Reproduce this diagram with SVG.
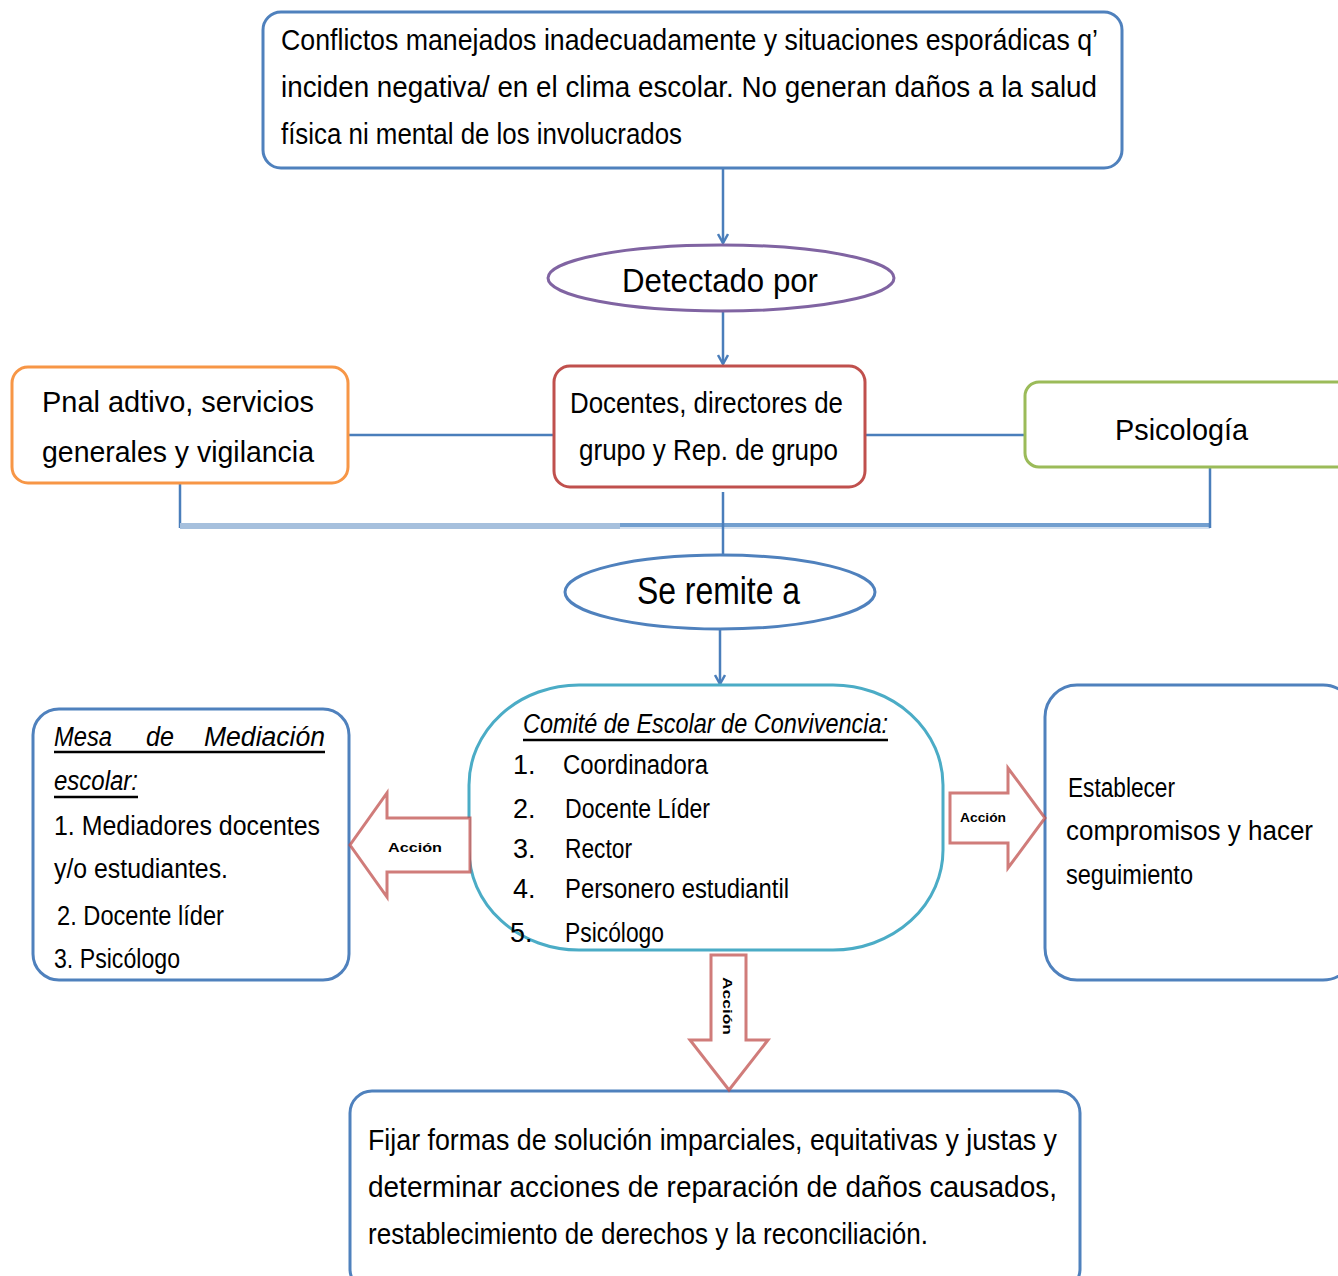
<svg xmlns="http://www.w3.org/2000/svg" width="1338" height="1276" viewBox="0 0 1338 1276">
<style>
text{font-family:"Liberation Sans",Arial,sans-serif;fill:#000}
.box{fill:#fff;stroke-width:3}
.blue{stroke:#4f81bd}
.t30{font-size:30px}
.t26{font-size:27px}
.conn{stroke:#4a7ebb;stroke-width:2.5;fill:none}
.barr{fill:#fff;stroke:#c0504d;stroke-width:3;stroke-opacity:.75}
.lbl{font-size:13px;font-weight:bold}
</style>
<defs>
<marker id="ah" viewBox="0 0 12 12" refX="11" refY="6" markerWidth="12" markerHeight="12" markerUnits="userSpaceOnUse" orient="auto">
<path d="M2,1 L11,6 L2,11" fill="none" stroke="#4a7ebb" stroke-width="2.5"/>
</marker>
</defs>

<g id="connectors">
<line class="conn" x1="723" y1="168" x2="723" y2="243" marker-end="url(#ah)"/>
<line class="conn" x1="723" y1="311" x2="723" y2="364" marker-end="url(#ah)"/>
<line class="conn" x1="348" y1="435" x2="554" y2="435" stroke-width="3"/>
<line class="conn" x1="865" y1="435" x2="1025" y2="435" stroke-width="3"/>
<line class="conn" x1="180" y1="483" x2="180" y2="528"/>
<line x1="180" y1="526" x2="620" y2="526" stroke="#a6c0dd" stroke-width="6"/>
<line x1="620" y1="525" x2="1210" y2="525" stroke="#729fcf" stroke-width="4"/>
<line x1="620" y1="528" x2="1210" y2="528" stroke="#d3e0ef" stroke-width="2"/>
<line class="conn" x1="1210" y1="457" x2="1210" y2="528"/>
<line class="conn" x1="723" y1="492" x2="723" y2="555"/>
<line class="conn" x1="720" y1="629" x2="720" y2="684" marker-end="url(#ah)"/>
</g>

<g id="node-top">
<rect class="box blue" x="263" y="12" width="859" height="156" rx="18"/>
<text class="t30" x="281" y="50" textLength="817" lengthAdjust="spacingAndGlyphs">Conflictos manejados inadecuadamente y situaciones esporádicas q’</text>
<text class="t30" x="281" y="97" textLength="816" lengthAdjust="spacingAndGlyphs">inciden negativa/ en el clima escolar. No generan daños a la salud</text>
<text class="t30" x="281" y="144" textLength="401" lengthAdjust="spacingAndGlyphs">física ni mental de los involucrados</text>
</g>

<g id="node-detectado">
<ellipse cx="721" cy="278" rx="173" ry="33" fill="#fff" stroke="#8064a2" stroke-width="3"/>
<text x="622" y="292" font-size="34" textLength="196" lengthAdjust="spacingAndGlyphs">Detectado por</text>
</g>

<g id="node-pnal">
<rect class="box" x="12" y="367" width="336" height="116" rx="16" stroke="#f79646"/>
<text class="t30" x="42" y="412" textLength="272" lengthAdjust="spacingAndGlyphs">Pnal  adtivo, servicios</text>
<text class="t30" x="42" y="462" textLength="272" lengthAdjust="spacingAndGlyphs">generales y vigilancia</text>
</g>

<g id="node-docentes">
<rect class="box" x="554" y="366" width="311" height="121" rx="16" stroke="#c0504d"/>
<text class="t30" x="570" y="413" textLength="273" lengthAdjust="spacingAndGlyphs">Docentes, directores de</text>
<text class="t30" x="579" y="460" textLength="259" lengthAdjust="spacingAndGlyphs">grupo y Rep. de grupo</text>
</g>

<g id="node-psicologia">
<rect class="box" x="1025" y="382" width="330" height="85" rx="14" stroke="#9bbb59"/>
<text class="t30" x="1115" y="440" textLength="133" lengthAdjust="spacingAndGlyphs">Psicología</text>
</g>

<g id="node-remite">
<ellipse cx="720" cy="592" rx="155" ry="37" fill="#fff" stroke="#4f81bd" stroke-width="3"/>
<text x="637" y="604" font-size="38" textLength="163" lengthAdjust="spacingAndGlyphs">Se remite a</text>
</g>

<g id="node-comite">
<rect class="box" x="469" y="685" width="474" height="265" rx="110" ry="100" stroke="#4bacc6"/>
<text x="523" y="733" font-size="27" font-style="italic" textLength="365" lengthAdjust="spacingAndGlyphs">Comité de Escolar de Convivencia:</text>
<line x1="523" y1="740" x2="888" y2="740" stroke="#000" stroke-width="2.5"/>
<g class="t26">
<text x="513" y="774">1.</text><text x="563" y="774" textLength="145" lengthAdjust="spacingAndGlyphs">Coordinadora</text>
<text x="513" y="818">2.</text><text x="565" y="818" textLength="145" lengthAdjust="spacingAndGlyphs">Docente Líder</text>
<text x="513" y="858">3.</text><text x="565" y="858" textLength="67" lengthAdjust="spacingAndGlyphs">Rector</text>
<text x="513" y="898">4.</text><text x="565" y="898" textLength="224" lengthAdjust="spacingAndGlyphs">Personero estudiantil</text>
<text x="510" y="942">5.</text><text x="565" y="942" textLength="99" lengthAdjust="spacingAndGlyphs">Psicólogo</text>
</g>
</g>

<g id="node-mesa">
<rect class="box blue" x="33" y="709" width="316" height="271" rx="26"/>
<g class="t26">
<text x="54" y="746" font-style="italic" textLength="58" lengthAdjust="spacingAndGlyphs">Mesa</text>
<text x="146" y="746" font-style="italic" textLength="28" lengthAdjust="spacingAndGlyphs">de</text>
<text x="204" y="746" font-style="italic" textLength="121" lengthAdjust="spacingAndGlyphs">Mediación</text>
<line x1="54" y1="752" x2="325" y2="752" stroke="#000" stroke-width="2.5"/>
<text x="54" y="790" font-style="italic" textLength="84" lengthAdjust="spacingAndGlyphs">escolar:</text>
<line x1="54" y1="797" x2="138" y2="797" stroke="#000" stroke-width="2.5"/>
<text x="54" y="835" textLength="266" lengthAdjust="spacingAndGlyphs">1. Mediadores docentes</text>
<text x="54" y="878" textLength="174" lengthAdjust="spacingAndGlyphs">y/o estudiantes.</text>
<text x="57" y="925" textLength="167" lengthAdjust="spacingAndGlyphs">2. Docente líder</text>
<text x="54" y="968" textLength="126" lengthAdjust="spacingAndGlyphs">3. Psicólogo</text>
</g>
</g>

<g id="node-establecer">
<rect class="box blue" x="1045" y="685" width="310" height="295" rx="32"/>
<g class="t26">
<text x="1068" y="797" textLength="107" lengthAdjust="spacingAndGlyphs">Establecer</text>
<text x="1066" y="840" textLength="247" lengthAdjust="spacingAndGlyphs">compromisos  y  hacer</text>
<text x="1066" y="884" textLength="127" lengthAdjust="spacingAndGlyphs">seguimiento</text>
</g>
</g>

<g id="node-fijar">
<rect class="box blue" x="350" y="1091" width="730" height="200" rx="22"/>
<text class="t30" x="368" y="1150" textLength="689" lengthAdjust="spacingAndGlyphs">Fijar formas de solución imparciales, equitativas y justas y</text>
<text class="t30" x="368" y="1197" textLength="689" lengthAdjust="spacingAndGlyphs">determinar acciones  de  reparación de daños causados,</text>
<text class="t30" x="368" y="1244" textLength="560" lengthAdjust="spacingAndGlyphs">restablecimiento de derechos y la reconciliación.</text>
</g>

<g id="arrow-left">
<path class="barr" d="M470,818 L387,818 L387,793 L350,845 L387,897 L387,872 L470,872 Z"/>
<text class="lbl" x="388" y="852" textLength="54" lengthAdjust="spacingAndGlyphs">Acción</text>
</g>
<g id="arrow-right">
<path class="barr" d="M950,793 L1008,793 L1008,768 L1045,818 L1008,868 L1008,843 L950,843 Z"/>
<text class="lbl" x="960" y="822" textLength="46" lengthAdjust="spacingAndGlyphs">Acción</text>
</g>
<g id="arrow-down">
<path class="barr" d="M711,955 L711,1040 L690,1040 L729,1090 L768,1040 L746,1040 L746,955 Z"/>
<text class="lbl" transform="translate(723,977) rotate(90)" x="0" y="0" textLength="58" lengthAdjust="spacingAndGlyphs">Acción</text>
</g>
</svg>
